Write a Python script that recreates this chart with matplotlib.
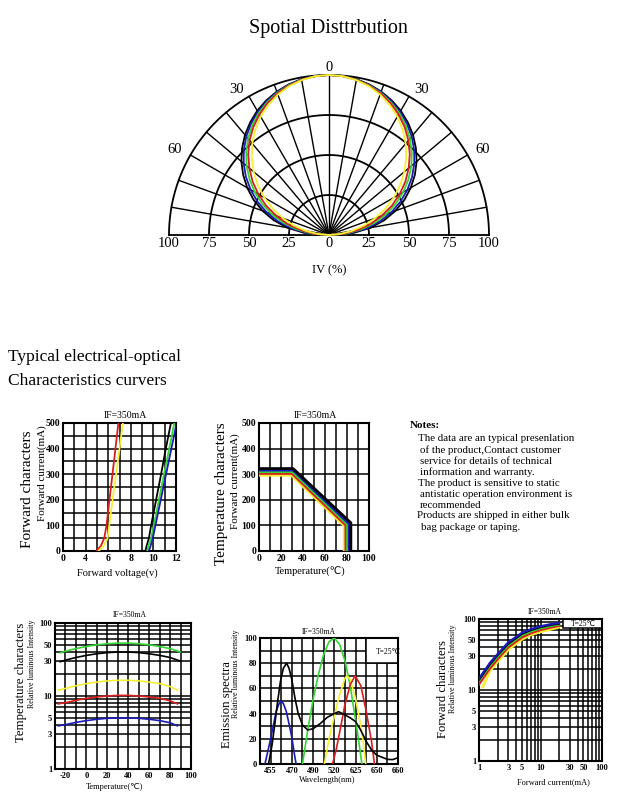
import numpy as np
import matplotlib
matplotlib.use('Agg')
import matplotlib.pyplot as plt
from matplotlib.ticker import FixedLocator, NullFormatter
from matplotlib.patches import Rectangle

plt.rcParams['font.family'] = ['Liberation Serif', 'DejaVu Sans']
plt.rcParams['axes.unicode_minus'] = False

W, H = 628, 800

# ---------------- data ----------------
# Spatial distribution (relative intensity % vs angle)
pol_angles = [0, 5, 10, 15, 20, 25, 30, 35, 40, 45, 50, 55, 60, 65, 70, 75, 80, 85, 90]
pol_black = [100, 99.7, 98.9, 97.4, 95.4, 92.8, 89.7, 85.9, 81.7, 76.8, 71.5, 65.5,
             59.0, 52.0, 44.2, 35.8, 26.5, 15.7, 0]
pol_blue = [100, 99.7, 98.8, 97.2, 95.1, 92.2, 88.9, 84.9, 80.4, 75.3, 69.6, 63.4,
            56.6, 49.3, 41.5, 33.0, 23.8, 13.5, 0]
pol_green = [100, 99.7, 98.6, 96.9, 94.6, 91.5, 87.9, 83.6, 78.7, 73.2, 67.2, 60.6,
             53.6, 46.1, 38.0, 29.6, 20.7, 11.1, 0]
pol_red = [100, 99.6, 98.5, 96.7, 94.2, 90.9, 87.0, 82.4, 77.2, 71.4, 65.0, 58.3,
           51.0, 43.4, 35.0, 27.0, 18.4, 9.4, 0]
pol_yellow = [100, 99.6, 98.3, 96.3, 93.4, 89.7, 85.4, 80.3, 74.6, 68.3, 61.5, 54.3,
              46.7, 38.8, 30.7, 22.6, 14.6, 6.8, 0]
pol_ticks = [100, 75, 50, 25, 0, 25, 50, 75, 100]

# Forward characters: current (mA) vs voltage (V)
fv_current = [0, 20, 50, 100, 200, 300, 400, 500]
fv_red = [4.95, 5.35, 5.65, 5.85, 6.11, 6.38, 6.64, 6.9]
fv_yellow = [5.15, 5.6, 5.95, 6.09, 6.39, 6.7, 7.0, 7.3]
fv_black = [9.3, 9.4, 9.6, 9.8, 10.24, 10.68, 11.1, 11.55]
fv_green = [9.45, 9.55, 9.8, 10.03, 10.49, 10.94, 11.4, 11.85]
fv_blue = [9.6, 9.75, 9.95, 10.18, 10.65, 11.12, 11.59, 12.06]
fv_xticks = [2, 4, 6, 8, 10, 12]
fv_xlabels = ['0', '4', '6', '8', '10', '12']

# Temperature derating: current (mA) vs temperature
td_black_t = [0, 31, 83.5, 83.5]
td_black_i = [322, 322, 110, 0]
td_blue_t = [0, 31, 82, 82]
td_blue_i = [316, 316, 106, 0]
td_green_t = [0, 30.5, 80.5, 80.5]
td_green_i = [310, 310, 104, 0]
td_red_t = [0, 30, 79, 79]
td_red_i = [303, 303, 101, 0]
td_yellow_t = [0, 29.5, 77.5, 77.5]
td_yellow_i = [296, 296, 98, 0]

# Temperature characters: relative luminous intensity vs temperature
tc_temp = [-25, -20, -10, 0, 10, 20, 30, 40, 50, 60, 70, 80, 90]
tc_green = [39, 41, 44.6, 47.7, 50.2, 52, 53, 53, 52, 50.2, 47.7, 44.6, 40]
tc_black = [29.5, 31, 33.7, 36, 37.9, 39.3, 40, 40, 39.3, 37.9, 36, 33.7, 30]
tc_temp2 = [-27, -20, -10, 0, 10, 20, 30, 40, 50, 60, 70, 80, 87]
tc_yellow = [12, 12.7, 13.8, 14.8, 15.5, 16.1, 16.4, 16.4, 16.1, 15.5, 14.8, 13.5, 12]
tc_red = [7.8, 8.1, 8.7, 9.3, 9.7, 10.0, 10.2, 10.2, 10.0, 9.7, 9.3, 8.6, 7.8]
tc_blue = [3.9, 4.05, 4.35, 4.6, 4.8, 4.95, 5.0, 5.0, 4.95, 4.8, 4.6, 4.3, 3.9]

# Emission spectra: relative intensity vs wavelength
es_blue_wl = [451, 453, 455, 457, 459, 461, 462.5, 464, 466, 468, 470, 472, 474]
es_blue = [0, 10, 20, 31, 42, 48, 50, 48, 42, 32, 21, 10, 0]
es_black_wl = [453.5, 456, 458, 460, 462, 464, 466.3, 468, 470, 473, 476, 480, 485,
               490, 500, 510, 520, 541, 572.5, 600, 625, 631, 637.5, 644, 650, 655, 657.5, 660]
es_black = [0, 15, 32, 50, 66, 76, 80, 76, 67, 52, 40, 31, 27,
            28, 32, 37, 40, 41.5, 39, 36.5, 33.7, 27, 18, 11, 7, 3.7, 3.5, 5]
es_green_wl = [480, 485, 490, 497.5, 505, 512.5, 520, 546, 572.5, 598.8, 625, 628.8, 632.5]
es_green = [0, 27, 51, 71, 87, 97, 100, 95, 82, 62, 35, 18, 0]
es_yellow_wl = [506, 512.5, 520, 546.3, 572.5, 581.4, 598.8, 625, 631.3, 634.5, 637]
es_yellow = [0, 20, 38, 55, 68, 70, 67, 52, 30, 15, 0]
es_red_wl = [517.5, 530, 546.3, 572.5, 598.8, 623, 631.3, 637.5, 643.8, 647.3]
es_red = [0, 12, 25, 47, 63, 70, 62, 42, 18, 0]
es_wl_nodes = [447.5, 455, 470, 490, 520, 625, 650, 660]
es_xticks = [455, 470, 490, 520, 625, 650, 660]
es_xminor = [447.5, 462.5, 480, 505, 572.5, 637.5, 655]

# Forward characters: relative intensity vs forward current (log-log)
fc_current = [1.0, 1.5, 2, 3, 5, 7, 10, 15, 20]
fc_current_y = [1.15, 1.5, 2, 3, 5, 7, 10, 15, 20]
fc_blue = [14.5, 24, 32, 47, 64, 72, 79, 85, 88]
fc_black = [14, 23, 31, 45, 62, 70, 77, 83, 86]
fc_green = [13.5, 22, 29.5, 43, 59, 67, 74, 80, 84]
fc_red = [12, 20, 27, 40, 55, 63, 70, 76, 80]
fc_yellow = [11, 18.5, 25, 37, 52, 60, 66, 72, 77]

C_BLACK = '#000000'
C_BLUE = '#1a1ab8'
C_GREEN = '#33d633'
C_RED = '#d81e1e'
C_YELLOW = '#f5f032'

fig = plt.figure(figsize=(W / 100, H / 100), dpi=100)


def add_ax(l, t, r, b):
    return fig.add_axes([l / W, 1 - b / H, (r - l) / W, (b - t) / H])


def ftext(x, y, s, **kw):
    fig.text(x / W, 1 - y / H, s, **kw)


# ---------------- Spatial distribution ----------------
ftext(328, 29, 'Spotial Disttrbution', fontsize=14.5, ha='center', va='center')
axp = add_ax(137, 59, 521, 283)
axp.set_xlim(-120, 120)
axp.set_ylim(-30, 110)
axp.axis('off')
th = np.radians(np.linspace(-90, 90, 361))
for r in [25, 50, 75, 100]:
    axp.plot(r * np.sin(th), r * np.cos(th), color='black', lw=1.3)
for a in range(-80, 90, 10):
    ar = np.radians(a)
    axp.plot([0, 100 * np.sin(ar)], [0, 100 * np.cos(ar)], color='black', lw=1.0)
axp.plot([-100, 100], [0, 0], color='black', lw=1.3)

for vals, col in [(pol_black, C_BLACK), (pol_blue, C_BLUE), (pol_green, C_GREEN),
                  (pol_red, C_RED), (pol_yellow, C_YELLOW)]:
    ang = np.radians(np.concatenate([-np.array(pol_angles[::-1]), np.array(pol_angles[1:])]))
    v = np.concatenate([np.array(vals[::-1]), np.array(vals[1:])])
    axp.plot(v * np.sin(ang), v * np.cos(ang), color=col, lw=1.3, zorder=3)

for xv, lab in zip([-100, -75, -50, -25, 0, 25, 50, 75, 100], pol_ticks):
    axp.text(xv, -5.5, str(lab), ha='center', va='center', fontsize=10.5)
for a, lab, rr in [(0, '0', 104.5), (-32.5, '30', 107.5), (32.5, '30', 107.5),
                   (-61, '60', 110), (61, '60', 110)]:
    ar = np.radians(a)
    axp.text(rr * np.sin(ar), rr * np.cos(ar), lab, ha='center', va='center', fontsize=10.5)
axp.text(0, -22, 'IV (%)', ha='center', va='center', fontsize=9)

# ---------------- Section heading ----------------
ftext(8, 357, 'Typical electrical-optical', fontsize=12.5, ha='left', va='center')
ftext(8, 381, 'Characteristics curvers', fontsize=12.5, ha='left', va='center')


def style_ax(ax, tick_fs=6.5):
    for s in ax.spines.values():
        s.set_linewidth(1.5)
        s.set_color('black')
    ax.tick_params(which='both', length=0, pad=2, labelsize=tick_fs)
    for lab in ax.get_xticklabels() + ax.get_yticklabels():
        lab.set_fontweight('bold')
    ax.grid(which='both', color='black', lw=1.1)
    ax.set_axisbelow(True)


# ---------------- Chart 1: Forward characters ----------------
ax1 = add_ax(63, 423, 176, 551)
ax1.set_xlim(2, 12)
ax1.set_ylim(0, 500)
ax1.set_xticks(fv_xticks)
ax1.set_xticklabels(fv_xlabels)
ax1.xaxis.set_minor_locator(FixedLocator(np.arange(2, 13, 1)))
ax1.set_yticks(np.arange(0, 501, 100))
ax1.yaxis.set_minor_locator(FixedLocator(np.arange(0, 501, 50)))
for xs, col in [(fv_red, C_RED), (fv_yellow, C_YELLOW), (fv_black, C_BLACK),
                (fv_green, C_GREEN), (fv_blue, C_BLUE)]:
    ax1.plot(xs, fv_current, color=col, lw=1.3, zorder=3)
style_ax(ax1, 7)
ftext(125, 415, 'IF=350mA', fontsize=7, ha='center', va='center')
ftext(117, 573, 'Forward voltage(v)', fontsize=7.5, ha='center', va='center')
ftext(28, 489, 'Forward characters', fontsize=11, rotation=90, ha='center', va='center')
ftext(42, 473, 'Forward current(mA)', fontsize=8, rotation=90, ha='center', va='center')

# ---------------- Chart 2: Temperature derating ----------------
ax2 = add_ax(259, 423, 369, 551)
ax2.set_xlim(0, 100)
ax2.set_ylim(0, 500)
ax2.set_xticks(np.arange(0, 101, 20))
ax2.xaxis.set_minor_locator(FixedLocator(np.arange(0, 101, 10)))
ax2.set_yticks(np.arange(0, 501, 100))
for ts, cs, col in [(td_yellow_t, td_yellow_i, C_YELLOW), (td_red_t, td_red_i, C_RED),
                    (td_green_t, td_green_i, C_GREEN), (td_blue_t, td_blue_i, C_BLUE),
                    (td_black_t, td_black_i, C_BLACK)]:
    ax2.plot(ts, cs, color=col, lw=2.0, zorder=3)
style_ax(ax2, 7)
ftext(315, 415, 'IF=350mA', fontsize=7, ha='center', va='center')
ftext(310, 572, 'Temperature(\u2103)', fontsize=7.5, ha='center', va='center')
ftext(222, 494, 'Temperature characters', fontsize=11, rotation=90, ha='center', va='center')
ftext(235, 481, 'Forward current(mA)', fontsize=8, rotation=90, ha='center', va='center')

# ---------------- Notes ----------------
ftext(410, 425, 'Notes:', fontsize=8, fontweight='bold', ha='left', va='center')
notes = [(418, 439, 'The data are an typical presenlation'),
         (420, 450, 'of the product,Contact customer'),
         (420, 461, 'service for details of technical'),
         (420, 472, 'information and warranty.'),
         (418, 483, 'The product is sensitive to static'),
         (420, 494, 'antistatic operation environment is'),
         (420, 505, 'recommended'),
         (417, 516, 'Products are shipped in either bulk'),
         (421, 527, 'bag package or taping.')]
for x, y, s in notes:
    ftext(x, y, s, fontsize=7.8, ha='left', va='center')

# ---------------- Chart 3: Temperature characters (log) ----------------
ax3 = add_ax(55, 623, 191, 769)
ax3.set_xlim(-30, 100)
ax3.set_yscale('log')
ax3.set_ylim(1, 100)
ax3.set_xticks(np.arange(-20, 101, 20))
ax3.xaxis.set_minor_locator(FixedLocator(np.arange(-30, 101, 10)))
ax3.set_yticks([1, 3, 5, 10, 30, 50, 100])
ax3.set_yticklabels(['1', '3', '5', '10', '30', '50', '100'])
ax3.yaxis.set_minor_locator(FixedLocator([2, 4, 6, 7, 8, 9, 20, 40, 60, 70, 80, 90]))
ax3.yaxis.set_minor_formatter(NullFormatter())
ax3.plot(tc_temp, tc_green, color=C_GREEN, lw=1.2, zorder=3)
ax3.plot(tc_temp, tc_black, color=C_BLACK, lw=1.2, zorder=3)
ax3.plot(tc_temp2, tc_yellow, color=C_YELLOW, lw=1.2, zorder=3)
ax3.plot(tc_temp2, tc_red, color=C_RED, lw=1.2, zorder=3)
ax3.plot(tc_temp2, tc_blue, color=C_BLUE, lw=1.2, zorder=3)
style_ax(ax3, 6)
ftext(130, 615, 'IF=350mA', fontsize=5.5, ha='center', va='center')
ftext(115, 787, 'Temperature(\u2103)', fontsize=6, ha='center', va='center')
ftext(21, 682, 'Temperature characters', fontsize=9.2, rotation=90, ha='center', va='center')
ftext(32, 664, 'Relative luminous Intensity', fontsize=5.8, rotation=90, ha='center', va='center')

# ---------------- Chart 4: Emission spectra ----------------
ax4 = add_ax(260, 638, 398, 764)
es_cols = np.array([0, 1, 3, 5, 7, 9, 11, 13], dtype=float)
es_nodes = np.array(es_wl_nodes, dtype=float)


def es_fwd(x):
    return np.interp(x, es_nodes, es_cols, left=-1e9, right=1e9)


def es_inv(c):
    return np.interp(c, es_cols, es_nodes)


ax4.set_xscale('function', functions=(es_fwd, es_inv))
ax4.set_xlim(es_wl_nodes[0], es_wl_nodes[-1])
ax4.set_ylim(0, 100)
ax4.set_xticks(es_xticks)
ax4.set_xticklabels([str(v) for v in es_xticks])
ax4.xaxis.set_minor_locator(FixedLocator(es_xminor))
ax4.xaxis.set_minor_formatter(NullFormatter())
ax4.set_yticks(np.arange(0, 101, 20))
ax4.yaxis.set_minor_locator(FixedLocator(np.arange(0, 101, 10)))
ax4.add_patch(Rectangle((637.5, 80), 660 - 637.5, 20, facecolor='white',
                        edgecolor='black', lw=1.1, zorder=2))
ax4.text(0.93, 0.885, 'T=25\u2103', transform=ax4.transAxes, fontsize=5.5,
         ha='center', va='center', zorder=4)
ax4.plot(es_blue_wl, es_blue, color=C_BLUE, lw=1.2, zorder=3)
ax4.plot(es_green_wl, es_green, color=C_GREEN, lw=1.2, zorder=3)
ax4.plot(es_yellow_wl, es_yellow, color=C_YELLOW, lw=1.2, zorder=3)
ax4.plot(es_red_wl, es_red, color=C_RED, lw=1.2, zorder=3)
ax4.plot(es_black_wl, es_black, color=C_BLACK, lw=1.2, zorder=3)
style_ax(ax4, 6)
ftext(319, 632, 'IF=350mA', fontsize=5.5, ha='center', va='center')
ftext(327, 780, 'Wavelength(nm)', fontsize=6, ha='center', va='center')
ftext(227, 705, 'Emission spectra', fontsize=9.2, rotation=90, ha='center', va='center')
ftext(236, 674, 'Relative luminous Intensity', fontsize=5.8, rotation=90, ha='center', va='center')

# ---------------- Chart 5: Forward characters (log-log) ----------------
ax5 = add_ax(479, 619, 602, 761)
ax5.set_xscale('log')
ax5.set_yscale('log')
ax5.set_xlim(1, 100)
ax5.set_ylim(1, 100)
ticks5 = [1, 3, 5, 10, 30, 50, 100]
minor5 = [2, 4, 6, 7, 8, 9, 20, 40, 60, 70, 80, 90]
ax5.set_xticks(ticks5)
ax5.set_xticklabels([str(v) for v in ticks5])
ax5.set_yticks(ticks5)
ax5.set_yticklabels([str(v) for v in ticks5])
ax5.xaxis.set_minor_locator(FixedLocator(minor5))
ax5.yaxis.set_minor_locator(FixedLocator(minor5))
ax5.xaxis.set_minor_formatter(NullFormatter())
ax5.yaxis.set_minor_formatter(NullFormatter())
ax5.add_patch(Rectangle((0.685, 0.935), 0.315, 0.065, transform=ax5.transAxes,
                        facecolor='white', edgecolor='black', lw=1.1, zorder=2))
ax5.text(0.845, 0.965, 'T=25\u2103', transform=ax5.transAxes, fontsize=5.5,
         ha='center', va='center', zorder=4)
ax5.plot(fc_current_y, fc_yellow, color=C_YELLOW, lw=2.0, zorder=3)
ax5.plot(fc_current, fc_red, color=C_RED, lw=1.6, zorder=3)
ax5.plot(fc_current, fc_green, color=C_GREEN, lw=1.6, zorder=3)
ax5.plot(fc_current, fc_black, color=C_BLACK, lw=1.6, zorder=3)
ax5.plot(fc_current, fc_blue, color=C_BLUE, lw=1.6, zorder=3)
style_ax(ax5, 6)
ftext(545, 612, 'IF=350mA', fontsize=5.5, ha='center', va='center')
ftext(553, 782, 'Forward current(mA)', fontsize=6, ha='center', va='center')
ftext(443, 689, 'Forward characters', fontsize=9.2, rotation=90, ha='center', va='center')
ftext(453, 669, 'Relative luminous Intensity', fontsize=5.8, rotation=90, ha='center', va='center')

fig.savefig('out.png', dpi=100)
